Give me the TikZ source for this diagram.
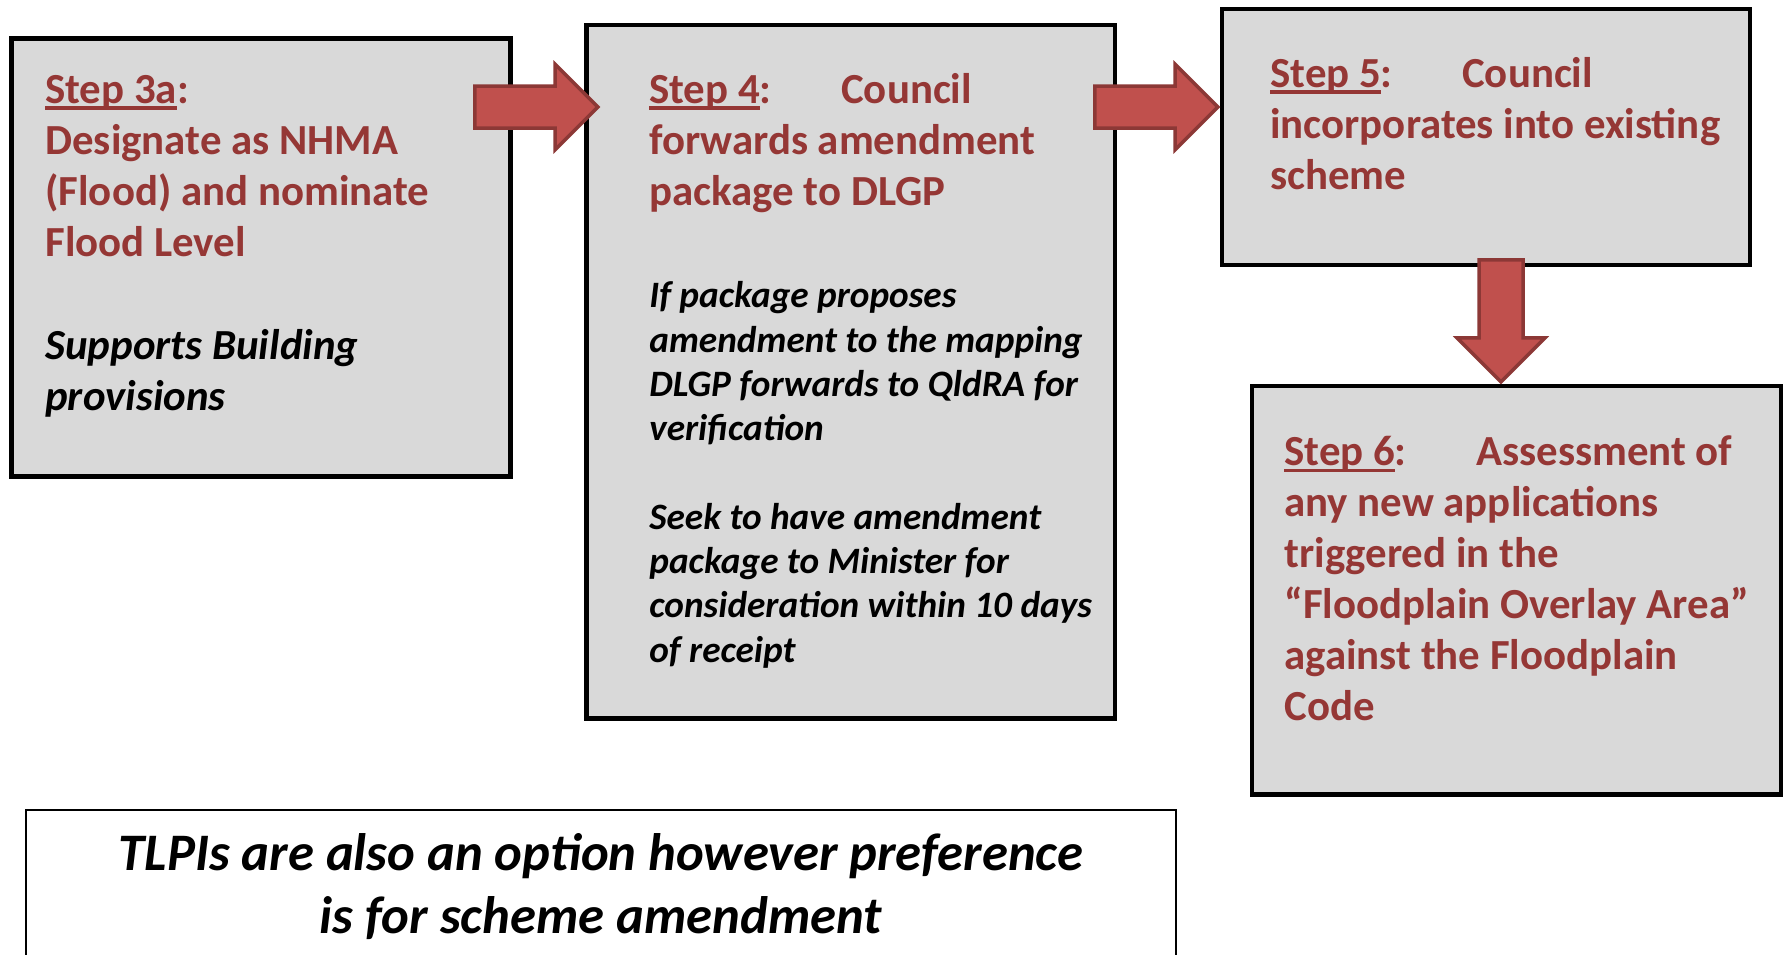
\documentclass[tikz,border=0pt]{standalone}
\usepackage{fontspec}
\setmainfont{Carlito}
\usetikzlibrary{shapes.arrows,positioning,calc}

\definecolor{boxgray}{HTML}{D9D9D9}
\definecolor{steptext}{HTML}{953735}
\definecolor{arrowfill}{HTML}{C0504D}
\definecolor{arrowline}{HTML}{8C3836}

\newsavebox{\ulbox}
\newcommand{\stepul}[1]{\sbox{\ulbox}{#1}\rlap{\rule[-3.7pt]{\wd\ulbox}{1.8pt}}\usebox{\ulbox}}
\newcommand{\steplabel}[2]{\makebox[3.84cm][l]{\stepul{#1}:}#2}

\begin{document}
\begin{tikzpicture}[x=0.02cm, y=-0.02cm,
    stepbox/.style={rectangle, draw=black, line width=0.09cm, fill=boxgray, inner sep=0pt},
    steptitle/.style={anchor=base west, align=left, inner sep=0pt, text=steptext, font=\fontsize{24.4}{29}\selectfont\bfseries},
    stepnote/.style={anchor=base west, align=left, inner sep=0pt, text=black, font=\fontsize{21.2}{25.2}\selectfont\bfseries\itshape},
    blockarrow/.style={single arrow, draw=arrowline, fill=arrowfill, line width=0.07cm, inner sep=0pt, text height=0.77cm, text depth=0pt, minimum height=2.46cm, single arrow head extend=0.435cm},
    notebox/.style={rectangle, draw=black, line width=0.03cm, fill=white, inner sep=0pt},
    notetext/.style={anchor=base, align=center, inner sep=0pt, text=black, font=\fontsize{30}{35.6}\selectfont\bfseries\itshape}
]
\useasboundingbox (0,0) rectangle (1785,954);

% Boxes
\node[stepbox, minimum width=9.98cm, minimum height=8.76cm] (s3a) at (261,257.5) {};
\node[stepbox, minimum width=10.57cm, minimum height=13.87cm] (s4) at (850.75,371.75) {};
\node[stepbox, minimum width=10.56cm, minimum height=5.12cm] (s5) at (1486,137) {};
\node[stepbox, minimum width=10.58cm, minimum height=8.17cm] (s6) at (1516.5,590.25) {};
\node[notebox, minimum width=23cm, minimum height=3.8cm] (note) at (601,905) {};

% Arrows
\node[blockarrow, anchor=tip] (a34) at ($(s4.west |- 0,107)+(16,0)$) {};
\node[blockarrow, anchor=tip] (a45) at ($(s5.west |- 0,107)+(0.5,0)$) {};
\node[blockarrow, rotate=-90, anchor=tip, text height=0.81cm, minimum height=2.44cm, single arrow head extend=0.44cm] (a56) at ($(s6.north -| 1501,0)+(0,0.5)$) {};

% Step texts (placed at the baseline of their last line)
\node[steptitle] (t3a) at (45,256) {\stepul{Step 3a}:\\Designate as NHMA\\(Flood) and nominate\\Flood Level};
\node[stepnote, font=\fontsize{24.4}{29}\selectfont\bfseries\itshape] (n3a) at (45,410) {Supports Building\\provisions};
\node[steptitle] (t4) at (649,205) {\steplabel{Step 4}{Council}\\forwards amendment\\package to DLGP};
\node[stepnote] (n4) at (649,662) {If package proposes\\amendment to the mapping\\DLGP forwards to QldRA for\\verification\\[25.2pt]Seek to have amendment\\package to Minister for\\consideration within 10 days\\of receipt};
\node[steptitle] (t5) at (1270,189) {\steplabel{Step 5}{Council}\\incorporates into existing\\scheme};
\node[steptitle] (t6) at (1284,720.5) {\steplabel{Step 6}{Assessment of}\\any new applications\\triggered in the\\“Floodplain Overlay Area”\\against the Floodplain\\Code};

% Note
\node[notetext] (tn) at (601,933) {TLPIs are also an option however preference\\is for scheme amendment};
\end{tikzpicture}
\end{document}
